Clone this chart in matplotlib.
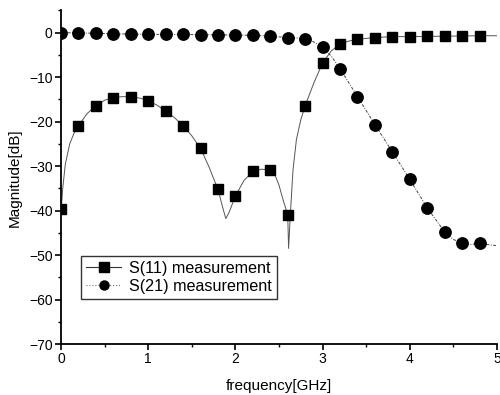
import matplotlib
matplotlib.use("Agg")
import matplotlib.pyplot as plt
from matplotlib.lines import Line2D
from matplotlib.ticker import MultipleLocator

plt.rcParams['font.family'] = ['Liberation Sans', 'DejaVu Sans']

# marker samples (every 0.2 GHz)
freq = [0.0, 0.2, 0.4, 0.6, 0.8, 1.0, 1.2, 1.4, 1.6, 1.8, 2.0, 2.2, 2.4,
        2.6, 2.8, 3.0, 3.2, 3.4, 3.6, 3.8, 4.0, 4.2, 4.4, 4.6, 4.8]
s11 = [-39.7, -20.9, -16.4, -14.6, -14.4, -15.3, -17.6, -20.9, -26.0, -35.2,
       -36.7, -31.2, -30.9, -41.0, -16.4, -6.8, -2.6, -1.5, -1.1, -0.9,
       -0.9, -0.8, -0.8, -0.8, -0.7]
s21 = [0.0, -0.05, -0.15, -0.3, -0.35, -0.35, -0.4, -0.4, -0.45, -0.5,
       -0.55, -0.6, -0.8, -1.1, -1.4, -3.3, -8.1, -14.4, -20.7, -26.8,
       -33.0, -39.4, -44.8, -47.3, -47.4]

s11_tf = [0.0, 0.02, 0.05, 0.1, 0.15, 0.2, 0.3, 0.4, 0.5, 0.6, 0.7, 0.8, 0.9,
          1.0, 1.1, 1.2, 1.3, 1.4, 1.5, 1.6, 1.7, 1.75, 1.8, 1.85, 1.89, 1.93,
          2.0, 2.1, 2.2, 2.3, 2.4, 2.45, 2.5, 2.55, 2.6, 2.61, 2.63, 2.66,
          2.7, 2.75, 2.8, 2.9, 3.0, 3.1, 3.2, 3.3, 3.4, 3.6, 3.8, 4.0, 4.4,
          4.8, 5.0]
s11_tv = [-40.5, -35.0, -29.5, -25.0, -22.6, -20.9, -18.2, -16.4, -15.2, -14.6,
          -14.4, -14.4, -14.7, -15.3, -16.3, -17.6, -19.1, -20.9, -23.2, -26.0,
          -30.3, -32.8, -35.2, -39.0, -41.8, -40.3, -36.7, -33.2, -31.2, -30.7,
          -30.9, -31.8, -34.3, -37.8, -41.0, -48.5, -41.0, -31.0, -24.0,
          -19.6, -16.4, -11.3, -6.8, -4.1, -2.6, -1.9, -1.5, -1.1, -0.9,
          -0.9, -0.8, -0.7, -0.7]
s21_tf = [0.0, 0.4, 0.8, 1.2, 1.6, 2.0, 2.2, 2.4, 2.6, 2.7, 2.8, 2.9, 3.0,
          3.1, 3.2, 3.4, 3.6, 3.8, 4.0, 4.2, 4.4, 4.5, 4.6, 4.7, 4.8, 5.0]
s21_tv = [0.0, -0.15, -0.35, -0.4, -0.45, -0.55, -0.6, -0.8, -1.1, -1.2,
          -1.4, -2.1, -3.3, -5.3, -8.1, -14.4, -20.7, -26.8, -33.0, -39.4,
          -44.8, -46.5, -47.3, -47.6, -47.4, -47.9]

fig = plt.figure(figsize=(5.0, 3.95), dpi=100)
ax = fig.add_axes([0.122, 0.1291, 0.872, 0.8446])

ax.plot(s11_tf, s11_tv, '-', color='#555555', lw=0.7)
ax.plot(s21_tf, s21_tv, linestyle=(0, (3, 1.5, 1, 1.5)), color='#444444', lw=0.7)
ax.plot(freq, s11, 's', color='black', ms=7.4, ls='none')
ax.plot(freq, s21, 'o', color='black', ms=8.2, ls='none')

ax.set_xlim(0, 5)
ax.set_ylim(-70, 5)
ax.xaxis.set_major_locator(MultipleLocator(1))
ax.xaxis.set_minor_locator(MultipleLocator(0.5))
ax.yaxis.set_major_locator(MultipleLocator(10))
ax.yaxis.set_minor_locator(MultipleLocator(5))
ax.spines['top'].set_visible(False)
ax.spines['right'].set_visible(False)
for s in ('left', 'bottom'):
    ax.spines[s].set_linewidth(1.3)
ax.tick_params(which='major', direction='out', length=4, width=1.2, labelsize=10, pad=2)
ax.tick_params(which='minor', direction='out', length=2.5, width=1.0)

ax.set_xlabel('frequency[GHz]', fontsize=11, labelpad=9)
ax.set_ylabel('Magnitude[dB]', fontsize=11, labelpad=5)

handles = [
    Line2D([], [], color='#333333', lw=0.8, marker='s', ms=6.5, mfc='black', mec='black'),
    Line2D([], [], color='#777777', lw=0.8, ls=':', marker='o', ms=6.5, mfc='black', mec='black'),
]
leg = ax.legend(handles, ['S(11) measurement', 'S(21) measurement'],
                loc='upper left', bbox_to_anchor=(0.046, 0.264), borderaxespad=0,
                fontsize=11.6, frameon=True, fancybox=False, handlelength=2.2,
                handletextpad=0.5, borderpad=0.3, labelspacing=0.2)
leg.get_frame().set_edgecolor('black')
leg.get_frame().set_linewidth(1.0)

fig.savefig('out.png', dpi=100)
